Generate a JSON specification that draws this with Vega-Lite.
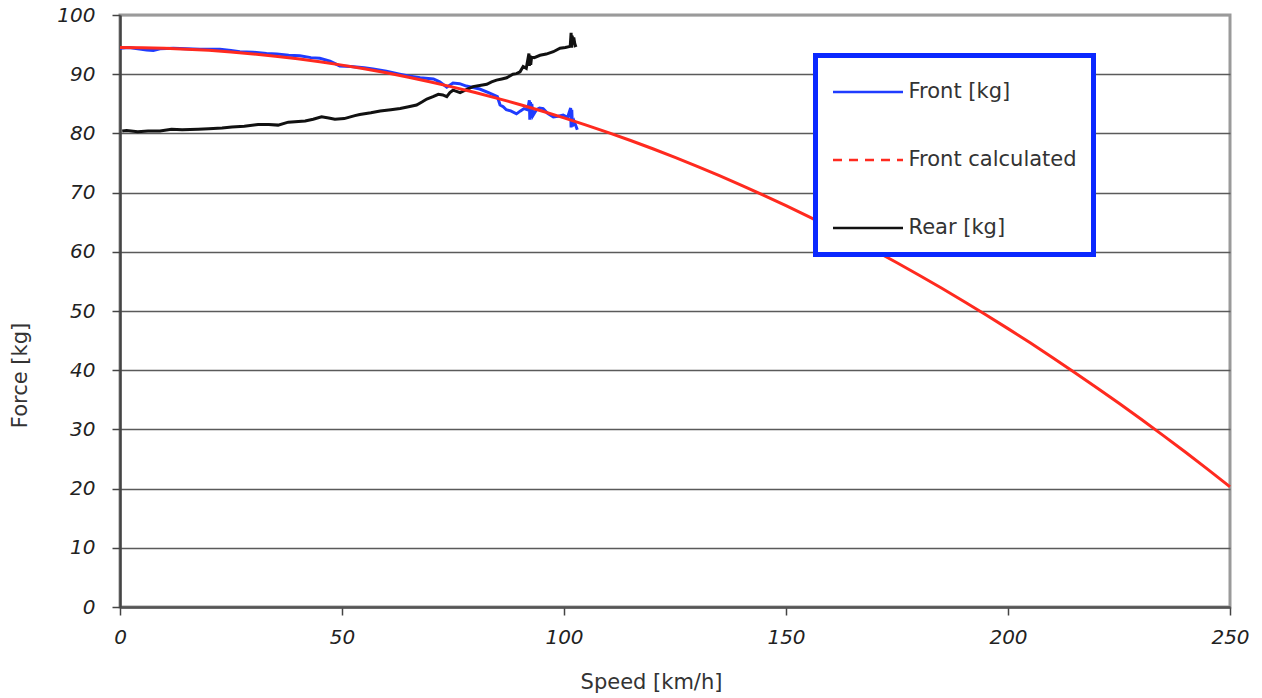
{
  "$schema": "https://vega.github.io/schema/vega-lite/v6.json",
  "width": 1110,
  "height": 592,
  "autosize": {"type": "none"},
  "padding": {"left": 120, "top": 15, "right": 32, "bottom": 91},
  "background": "white",
  "config": {
    "view": {"stroke": "#9a9a9a", "strokeWidth": 3},
    "font": "DejaVu Sans"
  },
  "datasets": {
    "front": [
      {"speed": 0, "force": 94.4}, {"speed": 2, "force": 94.5}, {"speed": 4, "force": 94.3},
      {"speed": 6, "force": 94.1}, {"speed": 7.5, "force": 94.0}, {"speed": 9, "force": 94.3},
      {"speed": 12, "force": 94.4}, {"speed": 15, "force": 94.3}, {"speed": 18, "force": 94.2},
      {"speed": 22.5, "force": 94.2}, {"speed": 25, "force": 94.0}, {"speed": 27, "force": 93.8},
      {"speed": 30, "force": 93.7}, {"speed": 33, "force": 93.5}, {"speed": 35.3, "force": 93.4},
      {"speed": 38, "force": 93.2}, {"speed": 40.5, "force": 93.1}, {"speed": 43, "force": 92.8},
      {"speed": 45, "force": 92.7}, {"speed": 47.3, "force": 92.2}, {"speed": 49.5, "force": 91.4},
      {"speed": 52, "force": 91.3}, {"speed": 55, "force": 91.1}, {"speed": 57, "force": 90.9},
      {"speed": 60, "force": 90.5}, {"speed": 63, "force": 90.0}, {"speed": 65, "force": 89.7},
      {"speed": 67.6, "force": 89.4}, {"speed": 70.6, "force": 89.2}, {"speed": 72, "force": 88.7},
      {"speed": 73.6, "force": 87.8}, {"speed": 75, "force": 88.5}, {"speed": 76.5, "force": 88.4},
      {"speed": 78, "force": 88.0}, {"speed": 81, "force": 87.5}, {"speed": 83, "force": 86.9},
      {"speed": 85, "force": 86.2}, {"speed": 85.6, "force": 84.8}, {"speed": 86.3, "force": 84.5},
      {"speed": 87, "force": 84.0}, {"speed": 88, "force": 83.8}, {"speed": 89.3, "force": 83.3},
      {"speed": 90.2, "force": 83.8}, {"speed": 91, "force": 84.2}, {"speed": 91.8, "force": 84.0},
      {"speed": 92.2, "force": 85.6}, {"speed": 92.3, "force": 82.3}, {"speed": 92.45, "force": 85.3},
      {"speed": 92.6, "force": 82.6}, {"speed": 92.75, "force": 85.0}, {"speed": 93, "force": 83.0},
      {"speed": 93.8, "force": 84.0}, {"speed": 94.5, "force": 84.3}, {"speed": 95.3, "force": 84.2},
      {"speed": 96.3, "force": 83.4}, {"speed": 97.6, "force": 82.8}, {"speed": 98.7, "force": 82.9},
      {"speed": 99.8, "force": 83.1}, {"speed": 100.8, "force": 82.7}, {"speed": 101.5, "force": 84.3},
      {"speed": 101.6, "force": 81.0}, {"speed": 101.75, "force": 84.0}, {"speed": 101.9, "force": 81.2},
      {"speed": 102.3, "force": 82.0}, {"speed": 103, "force": 80.6}
    ],
    "rear": [
      {"speed": 0.5, "force": 80.4}, {"speed": 1.5, "force": 80.5}, {"speed": 4, "force": 80.3},
      {"speed": 6.3, "force": 80.4}, {"speed": 9, "force": 80.4}, {"speed": 11.6, "force": 80.7},
      {"speed": 14, "force": 80.6}, {"speed": 17.6, "force": 80.7}, {"speed": 20, "force": 80.8},
      {"speed": 23, "force": 80.9}, {"speed": 25.2, "force": 81.1}, {"speed": 28, "force": 81.2},
      {"speed": 31.1, "force": 81.5}, {"speed": 33.5, "force": 81.5}, {"speed": 35.6, "force": 81.4},
      {"speed": 37.9, "force": 81.9}, {"speed": 41.7, "force": 82.1}, {"speed": 43.5, "force": 82.4},
      {"speed": 45.4, "force": 82.8}, {"speed": 47, "force": 82.6}, {"speed": 48.4, "force": 82.4},
      {"speed": 50.5, "force": 82.5}, {"speed": 52.9, "force": 83.0}, {"speed": 54, "force": 83.2},
      {"speed": 56.5, "force": 83.5}, {"speed": 58.6, "force": 83.8}, {"speed": 61, "force": 84.0},
      {"speed": 63.1, "force": 84.2}, {"speed": 65, "force": 84.5}, {"speed": 66.8, "force": 84.8},
      {"speed": 68, "force": 85.3}, {"speed": 69.1, "force": 85.8}, {"speed": 70.5, "force": 86.2},
      {"speed": 71.7, "force": 86.6}, {"speed": 72.7, "force": 86.5}, {"speed": 73.6, "force": 86.2},
      {"speed": 74.3, "force": 86.9}, {"speed": 75, "force": 87.3}, {"speed": 76.6, "force": 86.9},
      {"speed": 78, "force": 87.4}, {"speed": 79.5, "force": 87.9}, {"speed": 81, "force": 88.1},
      {"speed": 82.6, "force": 88.3}, {"speed": 83.7, "force": 88.7}, {"speed": 84.8, "force": 89.0},
      {"speed": 86, "force": 89.2}, {"speed": 87.1, "force": 89.4}, {"speed": 88.5, "force": 90.0},
      {"speed": 89.3, "force": 90.1}, {"speed": 90.1, "force": 90.4}, {"speed": 90.8, "force": 91.3},
      {"speed": 91.5, "force": 91.0}, {"speed": 92.1, "force": 93.5}, {"speed": 92.2, "force": 91.4},
      {"speed": 92.35, "force": 93.2}, {"speed": 92.5, "force": 91.6}, {"speed": 92.7, "force": 92.9},
      {"speed": 93.3, "force": 92.8}, {"speed": 94.6, "force": 93.2}, {"speed": 96, "force": 93.4},
      {"speed": 97.6, "force": 93.8}, {"speed": 99.1, "force": 94.4}, {"speed": 100.3, "force": 94.5},
      {"speed": 101.4, "force": 94.7}, {"speed": 101.6, "force": 97.0}, {"speed": 101.7, "force": 94.5},
      {"speed": 101.85, "force": 96.5}, {"speed": 102, "force": 95.0}, {"speed": 102.2, "force": 96.2},
      {"speed": 102.5, "force": 94.8}, {"speed": 102.9, "force": 94.9}
    ],
    "calculated": [
      {"speed": 0, "force": 94.5}, {"speed": 5, "force": 94.47}, {"speed": 10, "force": 94.38},
      {"speed": 15, "force": 94.23}, {"speed": 20, "force": 94.03}, {"speed": 25, "force": 93.76},
      {"speed": 30, "force": 93.43}, {"speed": 35, "force": 93.05}, {"speed": 40, "force": 92.6},
      {"speed": 45, "force": 92.1}, {"speed": 50, "force": 91.53}, {"speed": 55, "force": 90.91},
      {"speed": 60, "force": 90.23}, {"speed": 65, "force": 89.48}, {"speed": 70, "force": 88.68},
      {"speed": 75, "force": 87.82}, {"speed": 80, "force": 86.9}, {"speed": 85, "force": 85.92},
      {"speed": 90, "force": 84.89}, {"speed": 95, "force": 83.79}, {"speed": 100, "force": 82.63},
      {"speed": 105, "force": 81.41}, {"speed": 110, "force": 80.14}, {"speed": 115, "force": 78.8},
      {"speed": 120, "force": 77.41}, {"speed": 125, "force": 75.95}, {"speed": 130, "force": 74.44},
      {"speed": 135, "force": 72.87}, {"speed": 140, "force": 71.23}, {"speed": 145, "force": 69.54},
      {"speed": 150, "force": 67.79}, {"speed": 155, "force": 65.98}, {"speed": 160, "force": 64.11},
      {"speed": 165, "force": 62.18}, {"speed": 170, "force": 60.2}, {"speed": 175, "force": 58.15},
      {"speed": 180, "force": 56.04}, {"speed": 185, "force": 53.88}, {"speed": 190, "force": 51.65},
      {"speed": 195, "force": 49.37}, {"speed": 200, "force": 47.02}, {"speed": 205, "force": 44.62},
      {"speed": 210, "force": 42.16}, {"speed": 215, "force": 39.63}, {"speed": 220, "force": 37.05},
      {"speed": 225, "force": 34.41}, {"speed": 230, "force": 31.71}, {"speed": 235, "force": 28.95},
      {"speed": 240, "force": 26.13}, {"speed": 245, "force": 23.25}, {"speed": 250, "force": 20.31}
    ]
  },
  "encoding": {
    "x": {
      "field": "speed", "type": "quantitative",
      "scale": {"domain": [0, 250], "nice": false},
      "axis": {
        "title": "Speed [km/h]", "values": [0, 50, 100, 150, 200, 250], "grid": false,
        "domainColor": "#555555", "domainWidth": 2.5, "tickColor": "#444444", "tickSize": 8, "tickWidth": 1.5,
        "labelFont": "DejaVu Sans", "labelFontSize": 20, "labelFontStyle": "italic", "labelColor": "#222222",
        "labelPadding": 12, "labelFlush": false,
        "titleFont": "DejaVu Sans", "titleFontSize": 21, "titleFontWeight": "normal", "titleColor": "#333333",
        "titlePadding": 24, "titleX": 531
      }
    },
    "y": {
      "field": "force", "type": "quantitative",
      "scale": {"domain": [0, 100], "nice": false},
      "axis": {
        "title": "Force [kg]", "values": [0, 10, 20, 30, 40, 50, 60, 70, 80, 90, 100],
        "grid": true,
        "gridColor": {"condition": {"test": "datum.value >= 100", "value": "#9a9a9a"}, "value": "#5a5a5a"},
        "gridWidth": 1.6,
        "domainColor": "#444444", "domainWidth": 2.5, "tickColor": "#444444", "tickSize": 8, "tickWidth": 1.5,
        "labelFont": "DejaVu Sans", "labelFontSize": 20, "labelFontStyle": "italic", "labelColor": "#222222",
        "labelPadding": 17, "labelFlush": false,
        "titleFont": "DejaVu Sans", "titleFontSize": 21, "titleFontWeight": "normal", "titleColor": "#333333",
        "titlePadding": 26, "titleY": 360
      }
    },
    "color": {
      "field": "series", "type": "nominal",
      "scale": {
        "domain": ["Front [kg]", "Front calculated", "Rear [kg]"],
        "range": ["#1f3cff", "#ff2a1f", "#111111"]
      },
      "legend": {
        "title": null, "orient": "none", "legendX": 695.5, "legendY": 40.5,
        "symbolType": "stroke", "symbolSize": 4900, "symbolStrokeWidth": 2.5, "symbolOffset": 0,
        "labelFont": "DejaVu Sans", "labelFontSize": 21, "labelColor": "#333333", "labelOffset": 4,
        "labelLimit": 400,
        "padding": 16, "rowPadding": 37, "fillColor": "white", "strokeColor": "#0a28ff",
        "encode": {
          "legend": {"update": {"strokeWidth": {"value": 5}}},
          "symbols": {"update": {
            "y": {"value": 20.5},
            "strokeDash": {"signal": "datum.value === 'Front calculated' ? [9, 7] : [1, 0]"}
          }},
          "labels": {"update": {"y": {"value": 20.5}}}
        }
      }
    }
  },
  "layer": [
    {
      "data": {"name": "front"},
      "transform": [{"calculate": "'Front [kg]'", "as": "series"}],
      "mark": {"type": "line", "strokeWidth": 3, "interpolate": "linear"}
    },
    {
      "data": {"name": "rear"},
      "transform": [{"calculate": "'Rear [kg]'", "as": "series"}],
      "mark": {"type": "line", "strokeWidth": 3, "interpolate": "linear"}
    },
    {
      "data": {"name": "calculated"},
      "transform": [{"calculate": "'Front calculated'", "as": "series"}],
      "mark": {"type": "line", "strokeWidth": 3, "interpolate": "monotone"}
    }
  ]
}
